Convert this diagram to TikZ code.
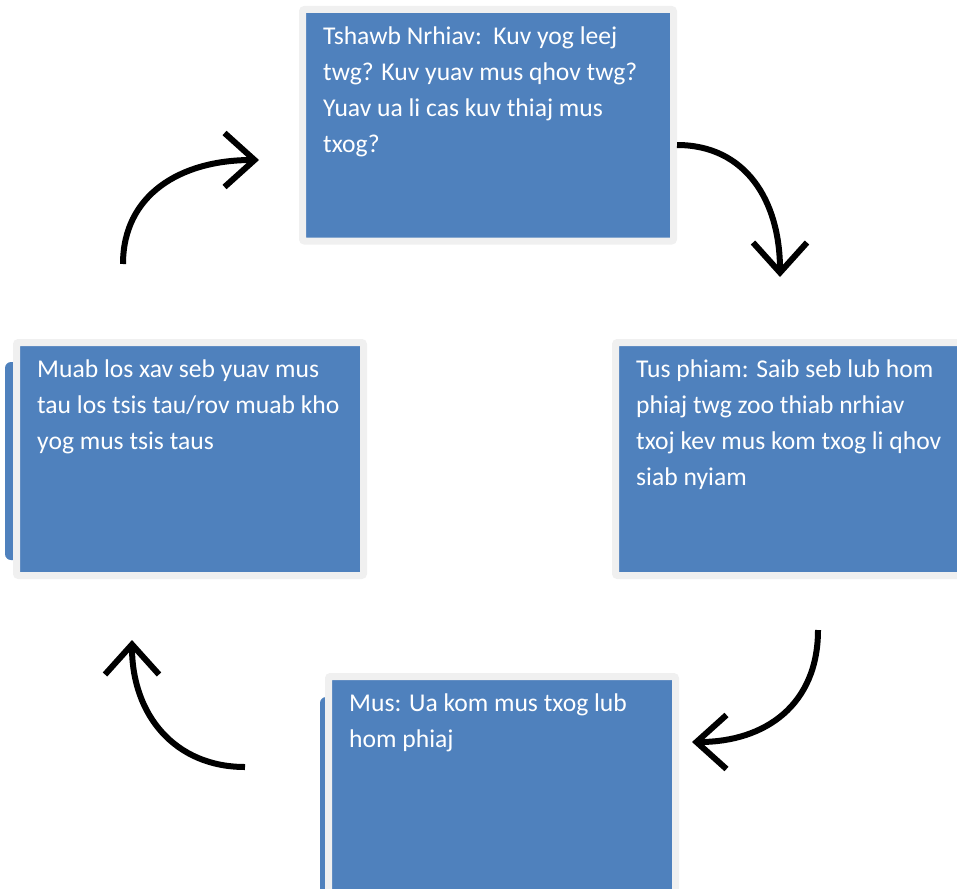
\documentclass[tikz,border=0pt]{standalone}
\usepackage{fontspec}
\setmainfont{Carlito}
\usetikzlibrary{arrows.meta}
\definecolor{stepblue}{RGB}{79,129,189}
\definecolor{framegray}{RGB}{240,240,240}

\begin{document}
\begin{tikzpicture}[x=1pt,y=-1pt,
	stepbox/.style={draw=framegray, line width=7pt, fill=stepblue, rounded corners=2pt, inner sep=0pt},
	steptext/.style={anchor=north west, inner sep=0pt, text=white, align=left, font=\fontsize{25.6}{36}\selectfont},
	turnarrow/.style={line width=6pt, -{Straight Barb[length=30pt,width=54pt,line width=6pt]}}]
			%%%%% START %%%%%
			\useasboundingbox (0,0) rectangle (957,888);
			\clip (0,0) rectangle (957,888);
			
			% blue edges peeking out behind two boxes
			\fill[stepblue, rounded corners=6pt] (5,362) rectangle (30,560);
			\fill[stepblue, rounded corners=6pt] (320,697) rectangle (345,920);
			
			\node[stepbox, minimum width=371pt, minimum height=231.5pt] (search) at (488,125.25) {};
			\node[stepbox, minimum width=347pt, minimum height=233pt] (share) at (190,459) {};
			\node[stepbox, minimum width=384.5pt, minimum height=233pt] (plan) at (807.75,459) {};
			\node[stepbox, minimum width=347pt, minimum height=233pt] (make) at (502,793) {};
			
			\node[steptext] (searchtxt) at (323,27) {Tshawb Nrhiav:\ \ Kuv yog leej\\twg? Kuv yuav mus qhov twg?\\Yuav ua li cas kuv thiaj mus\\txog?};
			\node[steptext] (sharetxt) at (37,360) {Muab los xav seb yuav mus\\tau los tsis tau/rov muab kho\\yog mus tsis taus};
			\node[steptext] (plantxt) at (636,360) {Tus phiam: Saib seb lub hom\\phiaj twg zoo thiab nrhiav\\txoj kev mus kom txog li qhov\\siab nyiam};
			\node[steptext] (maketxt) at (349,694) {Mus: Ua kom mus txog lub\\hom phiaj};
			
			% curved arrows between the boxes
			\coordinate (upfrom) at (123,264);
			\coordinate (upto) at (259,160);
			\coordinate (rightfrom) at (677,145);
			\coordinate (rightto) at (780,277);
			\coordinate (downfrom) at (818,630);
			\coordinate (downto) at (692,742);
			\coordinate (leftfrom) at (245,767);
			\coordinate (leftto) at (132,640);
			
			\draw[turnarrow] (upfrom) .. controls (123,195) and (180,160) .. (upto);
			\draw[turnarrow] (rightfrom) .. controls (745,145) and (780,200) .. (rightto);
			\draw[turnarrow] (downfrom) .. controls (818,705) and (765,742) .. (downto);
			\draw[turnarrow] (leftfrom) .. controls (175,767) and (132,715) .. (leftto);
			%%%%% END %%%%%
\end{tikzpicture}
\end{document}
